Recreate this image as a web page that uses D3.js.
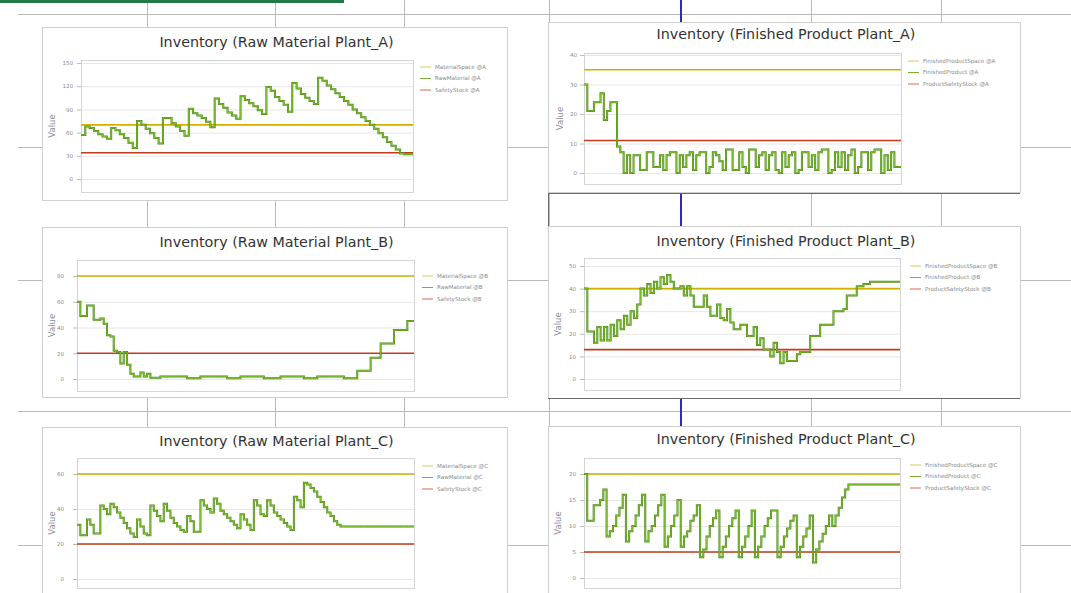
<!DOCTYPE html>
<html>
<head>
<meta charset="utf-8">
<script src="https://cdn.jsdelivr.net/npm/d3@7/dist/d3.min.js"></script>
<style>
  body { margin: 0; background: #fff; }
  svg { display: block; font-family: "DejaVu Sans", Verdana, sans-serif; }
</style>
</head>
<body>
<script>
const W = 1071, H = 593;

// inventory level per time step
const rawA = [57, 68, 66, 62, 58, 55, 52,
  66, 63, 58, 53, 47, 40,
  75, 70, 65, 59, 53, 46,
  79, 79, 72, 68, 62, 56,
  91, 85, 82, 79, 74, 67,
  104, 97, 92, 86, 82, 78,
  107, 102, 98, 94, 89, 84,
  119, 114, 106, 101, 96, 87,
  124, 117, 110, 105, 101, 97,
  131, 127, 121, 116, 111, 106, 101, 96, 90, 85, 80, 75, 70, 65, 59, 54, 48, 43, 38, 33,
  32, 32];
const fpA = [30, 21, 21, 24, 24, 27, 18, 21, 24, 24, 9, 7,
  0, 6, 0, 6, 6, 1, 1, 7, 7, 2, 2, 6, 1, 6, 7, 7, 0, 6, 2, 6, 7, 1, 6, 7, 7, 0, 2, 7, 6, 4,
  1, 8, 8, 1, 1, 7, 2, 0, 8, 8, 2, 6, 7, 1, 6, 7, 1, 0, 7, 2, 6, 7, 0, 1, 7, 7, 2, 6, 1, 7,
  8, 8, 0, 1, 7, 2, 7, 1, 6, 8, 0, 2, 7, 7, 1, 7, 8, 8, 0, 6, 1, 7, 2, 2];
const rawB = [60, 49, 49, 57, 57, 46, 46, 47, 43, 34, 33, 22, 21, 12, 21, 11, 4, 2, 2, 5,
  2, 4, 1, 1, 1, 2, 2, 2, 2, 2, 2, 2, 2, 0.5, 0.5, 0.5, 0.5, 2, 2, 2,
  2, 2, 2, 2, 2, 0.5, 0.5, 0.5, 0.5, 2, 2, 2, 2, 2, 2, 2, 0.5, 0.5, 0.5, 0.5,
  0.5, 2, 2, 2, 2, 2, 2, 2, 0.5, 0.5, 0.5, 0.5, 2, 2, 2, 2, 2, 2, 2, 2,
  0.5, 0.5, 0.5, 0.5, 6.5, 6.5, 6.5, 6.5, 16.5, 16.5, 16.5, 27.5, 27.5, 27.5, 27.5, 38, 38, 38, 38, 45, 45];
const fpB = [40, 21, 21, 16, 23, 17, 23, 17, 24, 19, 26, 22, 28, 24, 30, 27, 33, 40, 37, 42,
  38, 43, 40, 45, 42, 46, 43, 40, 40, 41, 37, 41, 37, 32, 32, 32, 37, 32, 28, 28,
  33, 27, 26, 31, 25, 22, 22, 24, 24, 19, 19, 23, 15, 18, 13, 13, 10, 16, 12, 7,
  12, 8, 8, 8, 11, 12, 12, 12, 19, 19, 19, 24, 24, 24, 24, 30, 30, 30, 31, 37,
  37, 37, 41, 41, 42, 42, 43, 43, 43, 43, 43, 43, 43, 43, 43];
const rawC = [31, 25, 25, 34, 31, 26, 26, 42, 40, 37, 43, 41, 38, 35, 32, 29, 26, 24, 34, 30,
  26, 25, 42, 39, 36, 33, 43, 39, 35, 32, 30, 28, 27, 36, 33, 27, 27, 45, 42, 40,
  38, 46, 43, 39, 37, 35, 33, 31, 29, 37, 34, 31, 28, 45, 42, 37, 36, 45, 42, 38,
  36, 34, 32, 30, 28, 47, 45, 41, 55, 54, 52, 50, 47, 44, 41, 38, 36, 33, 31, 30,
  30, 30, 30, 30, 30, 30, 30, 30, 30, 30, 30, 30, 30, 30, 30, 30, 30, 30, 30, 30, 30];
const fpC = [20, 11, 11, 14, 14, 15, 17, 8, 9, 10, 12, 13.5, 16, 7, 9, 10, 12, 14, 16, 7,
  9, 10, 12, 14, 16, 6, 8, 10, 12, 15, 6, 8, 9, 11, 12, 14, 4, 5.5, 8, 10,
  11.5, 13, 4, 6, 8, 10, 11.5, 13, 4, 6, 8, 10, 13, 4, 6, 8, 10, 11.5, 13, 13,
  4, 6, 8, 9.5, 11, 12, 4, 6, 8, 9.5, 12, 3, 5.5, 7, 8.5, 10, 12, 10, 12, 13.5,
  15.5, 17, 18, 18, 18, 18, 18, 18, 18, 18, 18, 18, 18, 18, 18, 18, 18, 18];

// storage space and safety stock levels, per chart
const spaceLevels = [70, 35, 80, 40, 60, 20];
const safetyLevels = [34, 11, 20, 13, 20, 5];

const yTicks = [
  [0, 30, 60, 90, 120, 150],
  [0, 10, 20, 30, 40],
  [0, 20, 40, 60, 80],
  [0, 10, 20, 30, 40, 50],
  [0, 20, 40, 60],
  [0, 5, 10, 15, 20],
];

const titles = [
  "Inventory (Raw Material Plant_A)",
  "Inventory (Finished Product Plant_A)",
  "Inventory (Raw Material Plant_B)",
  "Inventory (Finished Product Plant_B)",
  "Inventory (Raw Material Plant_C)",
  "Inventory (Finished Product Plant_C)",
];

const legendLabels = [
  ["MaterialSpace @A", "RawMaterial @A", "SafetyStock @A"],
  ["FinishedProductSpace @A", "FinishedProduct @A", "ProductSafetyStock @A"],
  ["MaterialSpace @B", "RawMaterial @B", "SafetyStock @B"],
  ["FinishedProductSpace @B", "FinishedProduct @B", "ProductSafetyStock @B"],
  ["MaterialSpace @C", "RawMaterial @C", "SafetyStock @C"],
  ["FinishedProductSpace @C", "FinishedProduct @C", "ProductSafetyStock @C"],
];

const series = [rawA, fpA, rawB, fpB, rawC, fpC];

// where each chart sits on the sheet
const LAYOUT = [
  { box: [42, 27, 465, 173], plot: [81, 60, 413, 192], zeroY: 179, topY: 63, titleY: 43, tickX: 73, valueX: 52, legend: [420, 67] },
  { box: [548, 22, 472, 170], plot: [584, 53, 901, 184], zeroY: 173, topY: 55, titleY: 35, tickX: 577, valueX: 560, legend: [908, 61] },
  { box: [42, 227, 465, 170], plot: [77, 260, 414, 391], zeroY: 379, topY: 276, titleY: 243, tickX: 64, valueX: 52, legend: [422, 276] },
  { box: [548, 226, 472, 172], plot: [584, 258, 900, 390], zeroY: 379, topY: 266, titleY: 242, tickX: 576, valueX: 558, legend: [910, 266] },
  { box: [42, 427, 465, 200], plot: [77, 458, 414, 588], zeroY: 579, topY: 474, titleY: 442, tickX: 64, valueX: 52, legend: [422, 466] },
  { box: [548, 426, 472, 200], plot: [584, 458, 900, 588], zeroY: 578, topY: 474, titleY: 440, tickX: 576, valueX: 558, legend: [910, 465] },
];

const SPACE_COLOR = "#d2b000";
const SAFETY_COLOR = "#c23b1a";
const STOCK_DARK = "#4a8a10";
const STOCK_LIGHT = "#8ccc3c";
const LEGEND_COLORS = ["#dcc860", "#7aae3c", "#d06a50"];

const svg = d3.select("body")
  .append("svg")
  .attr("width", W)
  .attr("height", H)
  .attr("viewBox", [0, 0, W, H]);

// spreadsheet cells behind the charts
const sheet = svg.append("g").attr("stroke", "#b9b9b9").attr("stroke-width", 1);
sheet.selectAll("line.h")
  .data([14, 147, 280, 411, 545])
  .join("line")
  .attr("x1", 18).attr("x2", W)
  .attr("y1", d => d + 0.5).attr("y2", d => d + 0.5);
sheet.selectAll("line.v")
  .data([147, 275, 404, 549, 811, 941])
  .join("line")
  .attr("x1", d => d + 0.5).attr("x2", d => d + 0.5)
  .attr("y1", 0).attr("y2", H);
svg.append("line")
  .attr("x1", 681).attr("x2", 681)
  .attr("y1", 0).attr("y2", H)
  .attr("stroke", "#2a2ac4")
  .attr("stroke-width", 2);
svg.append("rect")
  .attr("x", 0).attr("y", 0)
  .attr("width", 344).attr("height", 3)
  .attr("fill", "#1f7a48");

function drawChart(i) {
  const p = LAYOUT[i];
  const values = series[i];
  const [bx, by, bw, bh] = p.box;
  const [pl, pt, pr, pb] = p.plot;
  const g = svg.append("g");

  g.append("rect")
    .attr("x", bx + 0.5).attr("y", by + 0.5)
    .attr("width", bw).attr("height", bh)
    .attr("fill", "#fff")
    .attr("stroke", "#cfcfcf");

  const x = d3.scaleLinear().domain([0, values.length]).range([pl, pr]);
  const y = d3.scaleLinear().domain([0, d3.max(yTicks[i])]).range([p.zeroY, p.topY]);

  // grid
  g.append("g")
    .attr("transform", `translate(${pl}, 0)`)
    .call(d3.axisLeft(y).tickValues(yTicks[i]).tickSize(-(pr - pl)).tickFormat(""))
    .call(a => a.select(".domain").remove())
    .call(a => a.selectAll("line").attr("stroke", "#e6e6e6"));

  g.append("rect")
    .attr("x", pl + 0.5).attr("y", pt + 0.5)
    .attr("width", pr - pl).attr("height", pb - pt)
    .attr("fill", "none")
    .attr("stroke", "#d4d4d4");

  // y axis
  g.append("g")
    .attr("transform", `translate(${pl}, 0)`)
    .call(d3.axisLeft(y).tickValues(yTicks[i]).tickSize(4).tickPadding(pl - 4 - p.tickX).tickSizeOuter(0))
    .call(a => a.select(".domain").remove())
    .call(a => a.selectAll("line").attr("stroke", "#bbb"))
    .call(a => a.selectAll("text").attr("fill", "#8a8a8a").attr("font-size", 5.5).attr("font-family", "DejaVu Sans"));

  g.append("text")
    .attr("transform", `translate(${p.valueX}, ${(pt + pb) / 2}) rotate(-90)`)
    .attr("text-anchor", "middle")
    .attr("dominant-baseline", "middle")
    .attr("font-size", 8.5)
    .attr("fill", "#8b8fa0")
    .text("Value");

  g.append("text")
    .attr("x", bx + bw / 2 + 2)
    .attr("y", p.titleY)
    .attr("text-anchor", "middle")
    .attr("dominant-baseline", "middle")
    .attr("font-size", 14.3)
    .attr("fill", "#333")
    .text(titles[i]);

  // space and safety levels
  g.selectAll("line.level")
    .data([[spaceLevels[i], SPACE_COLOR], [safetyLevels[i], SAFETY_COLOR]])
    .join("line")
    .attr("x1", pl).attr("x2", pr)
    .attr("y1", d => y(d[0])).attr("y2", d => y(d[0]))
    .attr("stroke", d => d[1])
    .attr("stroke-width", 1.6);

  // stock level as a step line
  const pts = values.map((v, k) => [k, v]).concat([[values.length, values[values.length - 1]]]);
  const line = d3.line()
    .x(d => x(d[0]))
    .y(d => y(d[1]))
    .curve(d3.curveStepAfter);
  g.append("path")
    .attr("d", line(pts))
    .attr("fill", "none")
    .attr("stroke", STOCK_DARK)
    .attr("stroke-width", 2);
  g.append("path")
    .attr("d", line(pts))
    .attr("fill", "none")
    .attr("stroke", STOCK_LIGHT)
    .attr("stroke-width", 0.8);

  // legend
  const [lx, ly] = p.legend;
  const leg = g.append("g")
    .selectAll("g")
    .data(legendLabels[i])
    .join("g")
    .attr("transform", (d, k) => `translate(${lx}, ${ly + k * 11.5})`);
  leg.append("line")
    .attr("x1", 0).attr("x2", 11)
    .attr("stroke", (d, k) => LEGEND_COLORS[k])
    .attr("stroke-width", 1);
  leg.append("text")
    .attr("x", 15)
    .attr("dominant-baseline", "middle")
    .attr("font-size", 5.6)
    .attr("fill", "#8a8a8a")
    .text(d => d);
}

d3.range(6).forEach(drawChart);

// dark frame edges on the right-hand column
svg.append("path")
  .attr("d", "M548,193.5H1020M548.5,193V226M548,398.5H1020")
  .attr("fill", "none")
  .attr("stroke", "#6a6a6a");
</script>
</body>
</html>
